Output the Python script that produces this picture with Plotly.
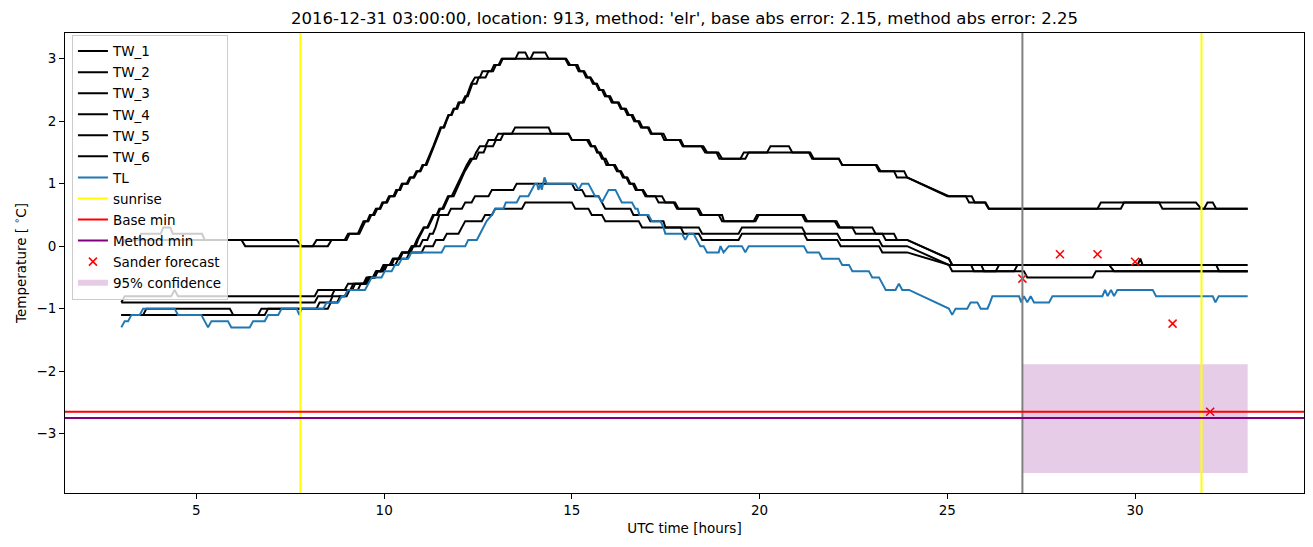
import plotly.graph_objects as go

title_text = "2016-12-31 03:00:00, location: 913, method: 'elr', base abs error: 2.15, method abs error: 2.25"

# ---- data: (hour, temperature) breakpoints ----
TW_1 = [(3.0, 0.0), (3.09, 0.1), (3.45, 0.1), (3.52, 0.2), (4.05, 0.2), (4.12, 0.3), (4.3, 0.3), (4.37, 0.2),
        (5.15, 0.2), (5.22, 0.1), (6.2, 0.1), (6.3, 0.0), (8.1, 0.0), (8.2, 0.1), (8.95, 0.1), (9.04, 0.2),
        (9.3, 0.2), (9.38, 0.3), (9.45, 0.4), (9.55, 0.4), (9.62, 0.5), (9.7, 0.5), (9.78, 0.6), (9.88, 0.6),
        (9.95, 0.7), (10.05, 0.7), (10.13, 0.8), (10.25, 0.8), (10.32, 0.9), (10.4, 0.9), (10.47, 1.0),
        (10.6, 1.0), (10.68, 1.1), (10.78, 1.1), (10.86, 1.2), (10.95, 1.2), (11.02, 1.3), (11.1, 1.3),
        (11.18, 1.4), (11.24, 1.5), (11.31, 1.6), (11.37, 1.7), (11.44, 1.8), (11.5, 1.9), (11.58, 1.9),
        (11.64, 2.0), (11.71, 2.1), (11.78, 2.1), (11.85, 2.2), (11.92, 2.2), (11.98, 2.3), (12.08, 2.3),
        (12.16, 2.4), (12.2, 2.4), (12.26, 2.5), (12.32, 2.6), (12.42, 2.7), (12.55, 2.7), (12.62, 2.8),
        (12.85, 2.8), (12.93, 2.9), (13.05, 2.9), (13.13, 3.0), (13.5, 3.0), (13.58, 3.1), (13.76, 3.1),
        (13.84, 3.0), (13.9, 3.0), (13.98, 3.1), (14.29, 3.1), (14.38, 3.0), (14.82, 3.0), (14.91, 2.9),
        (15.1, 2.9), (15.18, 2.8), (15.3, 2.8), (15.38, 2.7), (15.48, 2.7), (15.56, 2.6), (15.64, 2.6),
        (15.72, 2.5), (15.8, 2.5), (15.88, 2.4), (15.98, 2.4), (16.06, 2.3), (16.22, 2.3), (16.3, 2.2),
        (16.4, 2.2), (16.48, 2.1), (16.58, 2.1), (16.66, 2.0), (16.76, 2.0), (16.84, 1.9), (17.02, 1.9),
        (17.1, 1.8), (17.38, 1.8), (17.46, 1.7), (17.86, 1.7), (17.95, 1.6), (18.45, 1.6), (18.55, 1.5),
        (18.85, 1.5), (18.93, 1.4), (19.49, 1.4), (19.58, 1.5), (20.2, 1.5), (20.29, 1.6), (20.78, 1.6),
        (20.87, 1.5), (21.31, 1.5), (21.4, 1.4), (22.11, 1.4), (22.2, 1.3), (23.09, 1.3), (23.18, 1.2),
        (23.58, 1.2), (23.66, 1.1), (23.93, 1.1), (25.04, 0.8), (25.49, 0.8), (25.58, 0.7), (26.0, 0.7),
        (26.1, 0.6), (29.0, 0.6), (29.09, 0.7), (30.64, 0.7), (30.73, 0.6), (31.84, 0.6), (31.93, 0.7),
        (32.07, 0.7), (32.16, 0.6), (33.0, 0.6)]

TW_2 = [(3.0, 0.0), (3.09, 0.1), (7.67, 0.1), (7.8, 0.0), (8.5, 0.0), (8.6, 0.1), (9.0, 0.1), (9.08, 0.2),
        (9.34, 0.2), (9.42, 0.3), (9.5, 0.4), (9.58, 0.4), (9.66, 0.5), (9.74, 0.5), (9.82, 0.6), (9.9, 0.6),
        (9.98, 0.7), (10.08, 0.7), (10.16, 0.8), (10.28, 0.8), (10.36, 0.9), (10.43, 0.9), (10.5, 1.0),
        (10.63, 1.0), (10.71, 1.1), (10.8, 1.1), (10.89, 1.2), (10.97, 1.2), (11.05, 1.3), (11.13, 1.3),
        (11.2, 1.4), (11.26, 1.5), (11.33, 1.6), (11.39, 1.7), (11.46, 1.8), (11.52, 1.9), (11.6, 1.9),
        (11.66, 2.0), (11.73, 2.1), (11.8, 2.1), (11.87, 2.2), (11.95, 2.2), (12.01, 2.3), (12.12, 2.3),
        (12.19, 2.4), (12.23, 2.4), (12.29, 2.5), (12.35, 2.6), (12.46, 2.6), (12.52, 2.7), (12.7, 2.7),
        (12.78, 2.8), (12.9, 2.8), (12.98, 2.9), (13.08, 2.9), (13.16, 3.0), (14.85, 3.0), (14.95, 2.9),
        (15.15, 2.9), (15.22, 2.8), (15.33, 2.8), (15.42, 2.7), (15.5, 2.7), (15.6, 2.6), (15.67, 2.6),
        (15.75, 2.5), (15.84, 2.5), (15.92, 2.4), (16.02, 2.4), (16.1, 2.3), (16.25, 2.3), (16.33, 2.2),
        (16.44, 2.2), (16.52, 2.1), (16.62, 2.1), (16.7, 2.0), (16.8, 2.0), (16.88, 1.9), (17.05, 1.9),
        (17.13, 1.8), (17.44, 1.8), (17.52, 1.7), (17.9, 1.7), (17.98, 1.6), (18.5, 1.6), (18.6, 1.5),
        (18.9, 1.5), (19.0, 1.4), (19.62, 1.4), (19.71, 1.5), (21.35, 1.5), (21.44, 1.4), (22.11, 1.4),
        (22.2, 1.3), (23.12, 1.3), (23.22, 1.2), (23.85, 1.2), (23.93, 1.1), (25.0, 0.8), (25.65, 0.8),
        (25.73, 0.7), (26.02, 0.7), (26.11, 0.6), (29.62, 0.6), (29.71, 0.7), (31.62, 0.7), (31.76, 0.6),
        (33.0, 0.6)]

TW_3 = [(3.0, -0.9), (3.09, -0.8), (4.33, -0.8), (4.42, -0.7), (4.51, -0.8), (8.15, -0.8), (8.24, -0.7),
        (8.95, -0.7), (9.04, -0.6), (9.49, -0.6), (9.58, -0.5), (9.71, -0.5), (9.8, -0.4), (9.93, -0.4),
        (10.02, -0.3), (10.16, -0.3), (10.24, -0.2), (10.38, -0.2), (10.47, -0.1), (10.64, -0.1),
        (10.73, 0.0), (10.8, 0.0), (10.87, 0.1), (10.95, 0.2), (11.05, 0.3), (11.15, 0.3), (11.22, 0.4),
        (11.3, 0.5), (11.4, 0.5), (11.47, 0.6), (11.55, 0.6), (11.62, 0.7), (11.7, 0.8), (11.8, 0.8),
        (11.88, 0.9), (11.95, 1.0), (12.02, 1.1), (12.1, 1.2), (12.2, 1.3), (12.3, 1.4), (12.38, 1.4),
        (12.45, 1.5), (12.55, 1.6), (12.7, 1.6), (12.78, 1.7), (12.95, 1.7), (13.04, 1.8), (13.4, 1.8),
        (13.49, 1.9), (14.38, 1.9), (14.45, 1.8), (14.91, 1.8), (15.0, 1.7), (15.4, 1.7), (15.5, 1.6),
        (15.6, 1.6), (15.67, 1.5), (15.72, 1.5), (15.8, 1.4), (15.85, 1.4), (15.92, 1.3), (16.11, 1.3),
        (16.2, 1.2), (16.28, 1.2), (16.36, 1.1), (16.45, 1.1), (16.53, 1.0), (16.62, 1.0), (16.7, 0.9),
        (16.87, 0.9), (16.96, 0.8), (17.22, 0.8), (17.31, 0.7), (17.71, 0.7), (17.8, 0.6), (18.33, 0.6),
        (18.42, 0.5), (18.91, 0.5), (19.0, 0.4), (19.84, 0.4), (19.93, 0.5), (21.13, 0.5), (21.22, 0.4),
        (22.0, 0.4), (22.1, 0.3), (22.47, 0.3), (22.56, 0.2), (23.27, 0.2), (23.36, 0.1), (23.93, 0.1),
        (25.04, -0.2), (25.13, -0.3), (30.07, -0.3), (30.14, -0.2), (30.2, -0.3), (33.0, -0.3)]

TW_4 = [(3.0, -0.9), (8.15, -0.9), (8.24, -0.8), (8.6, -0.8), (8.68, -0.7), (9.1, -0.7), (9.18, -0.6),
        (9.55, -0.6), (9.62, -0.5), (9.75, -0.5), (9.82, -0.4), (9.98, -0.4), (10.05, -0.3), (10.2, -0.3),
        (10.27, -0.2), (10.42, -0.2), (10.5, -0.1), (10.66, -0.1), (10.75, 0.0), (10.84, 0.0), (10.9, 0.1),
        (10.98, 0.2), (11.07, 0.3), (11.17, 0.3), (11.25, 0.4), (11.33, 0.5), (11.42, 0.5), (11.5, 0.6),
        (11.58, 0.6), (11.66, 0.7), (11.73, 0.8), (11.85, 0.8), (11.92, 0.9), (12.0, 1.0), (12.07, 1.1),
        (12.15, 1.2), (12.25, 1.3), (12.35, 1.4), (12.45, 1.4), (12.52, 1.5), (12.65, 1.5), (12.72, 1.6),
        (12.9, 1.6), (12.98, 1.7), (13.1, 1.7), (13.18, 1.8), (14.91, 1.8), (15.0, 1.7), (15.45, 1.7),
        (15.53, 1.6), (15.62, 1.6), (15.7, 1.5), (15.76, 1.5), (15.84, 1.4), (15.9, 1.4), (15.98, 1.3),
        (16.15, 1.3), (16.24, 1.2), (16.31, 1.2), (16.4, 1.1), (16.48, 1.1), (16.56, 1.0), (16.66, 1.0),
        (16.74, 0.9), (16.9, 0.9), (17.0, 0.8), (17.4, 0.8), (17.49, 0.7), (17.75, 0.7), (17.84, 0.6),
        (18.38, 0.6), (18.47, 0.5), (19.0, 0.5), (19.05, 0.4), (19.89, 0.4), (19.98, 0.5), (21.18, 0.5),
        (21.27, 0.4), (22.05, 0.4), (22.14, 0.3), (23.0, 0.3), (23.09, 0.2), (23.58, 0.2), (23.66, 0.1),
        (23.93, 0.1), (25.04, -0.2), (25.13, -0.3), (25.9, -0.3), (25.98, -0.4), (26.29, -0.4),
        (26.38, -0.3), (29.31, -0.3), (29.44, -0.4), (33.0, -0.4)]

TW_5 = [(3.0, -1.1), (3.58, -1.1), (3.67, -1.0), (5.89, -1.0), (5.98, -1.1), (6.64, -1.1), (6.73, -1.0),
        (8.2, -1.0), (8.28, -0.9), (8.55, -0.9), (8.63, -0.8), (8.95, -0.8), (9.04, -0.7), (9.15, -0.7),
        (9.23, -0.6), (9.45, -0.6), (9.53, -0.5), (9.7, -0.5), (9.78, -0.4), (9.9, -0.4), (9.98, -0.3),
        (10.15, -0.3), (10.23, -0.2), (10.4, -0.2), (10.48, -0.1), (10.7, -0.1), (10.78, 0.0), (10.95, 0.0),
        (11.03, 0.1), (11.15, 0.1), (11.22, 0.2), (11.3, 0.2), (11.37, 0.3), (11.42, 0.4), (11.47, 0.5),
        (11.7, 0.5), (11.78, 0.6), (12.07, 0.6), (12.16, 0.7), (12.33, 0.7), (12.42, 0.8), (12.78, 0.8),
        (12.87, 0.9), (13.44, 0.9), (13.53, 1.0), (15.0, 1.0), (15.09, 0.9), (15.27, 0.9), (15.36, 0.8),
        (15.71, 0.8), (15.8, 0.7), (15.89, 0.6), (16.56, 0.6), (16.64, 0.5), (17.0, 0.5), (17.09, 0.4),
        (17.44, 0.4), (17.49, 0.3), (18.38, 0.3), (18.47, 0.2), (19.44, 0.2), (19.53, 0.3), (21.13, 0.3),
        (21.22, 0.2), (22.07, 0.2), (22.16, 0.1), (23.18, 0.1), (23.27, 0.0), (23.93, 0.0), (25.04, -0.3),
        (25.63, -0.3), (25.71, -0.4), (27.04, -0.4), (27.13, -0.5), (28.87, -0.5), (28.96, -0.4),
        (33.0, -0.4)]

TW_6 = [(3.0, -1.1), (6.82, -1.1), (6.91, -1.0), (8.5, -1.0), (8.58, -0.9), (8.75, -0.9), (8.83, -0.8),
        (9.0, -0.8), (9.08, -0.7), (9.3, -0.7), (9.38, -0.6), (9.5, -0.6), (9.58, -0.5), (9.75, -0.5),
        (9.83, -0.4), (10.0, -0.4), (10.08, -0.3), (10.3, -0.3), (10.38, -0.2), (10.6, -0.2), (10.68, -0.1),
        (11.0, -0.1), (11.08, 0.0), (11.3, 0.0), (11.38, 0.1), (11.58, 0.1), (11.67, 0.2), (11.98, 0.2),
        (12.07, 0.3), (12.16, 0.4), (12.6, 0.4), (12.69, 0.5), (12.87, 0.5), (12.96, 0.6), (13.67, 0.6),
        (13.76, 0.7), (15.0, 0.7), (15.09, 0.6), (15.44, 0.6), (15.53, 0.5), (15.8, 0.5), (15.89, 0.4),
        (16.78, 0.4), (16.87, 0.3), (17.9, 0.3), (17.98, 0.2), (18.38, 0.2), (18.47, 0.1), (19.44, 0.1),
        (19.53, 0.2), (21.18, 0.2), (21.27, 0.1), (22.07, 0.1), (22.16, 0.0), (23.18, 0.0), (23.27, -0.1),
        (23.93, -0.1), (25.04, -0.3), (25.13, -0.4), (26.78, -0.4), (26.87, -0.3), (30.56, -0.3),
        (30.64, -0.3), (32.16, -0.3), (32.24, -0.4), (33.0, -0.4)]

TL = [(3.0, -1.3), (3.09, -1.2), (3.18, -1.2), (3.27, -1.1), (3.49, -1.1), (3.58, -1.0), (4.42, -1.0),
      (4.51, -1.1), (5.13, -1.1), (5.22, -1.2), (5.31, -1.3), (5.4, -1.2), (5.84, -1.2), (5.93, -1.3),
      (6.42, -1.3), (6.51, -1.2), (6.82, -1.2), (6.91, -1.1), (7.18, -1.1), (7.27, -1.0), (7.67, -1.0),
      (7.74, -1.1), (7.8, -1.0), (8.38, -1.0), (8.47, -0.9), (8.78, -0.9), (8.87, -0.8), (8.95, -0.8),
      (9.04, -0.7), (9.49, -0.7), (9.58, -0.6), (9.67, -0.5), (9.93, -0.5), (10.02, -0.4), (10.2, -0.4),
      (10.29, -0.3), (10.38, -0.3), (10.47, -0.2), (10.64, -0.2), (10.73, -0.1), (11.53, -0.1),
      (11.62, 0.0), (12.16, 0.0), (12.24, 0.1), (12.47, 0.1), (12.56, 0.2), (12.64, 0.3), (12.73, 0.4),
      (12.87, 0.5), (12.96, 0.6), (13.18, 0.6), (13.24, 0.7), (13.53, 0.7), (13.62, 0.8), (13.84, 0.8),
      (13.93, 0.9), (14.02, 1.0), (14.07, 1.0), (14.11, 0.9), (14.16, 1.0), (14.2, 0.9), (14.27, 1.1),
      (14.33, 1.0), (15.09, 1.0), (15.18, 0.9), (15.27, 1.0), (15.44, 1.0), (15.53, 0.9), (15.62, 0.8),
      (15.71, 0.8), (15.8, 0.7), (15.89, 0.8), (15.98, 0.9), (16.16, 0.9), (16.25, 0.8), (16.33, 0.7),
      (16.6, 0.7), (16.69, 0.6), (16.75, 0.6), (16.8, 0.5), (17.04, 0.5), (17.13, 0.4), (17.36, 0.4),
      (17.44, 0.3), (17.49, 0.2), (17.93, 0.2), (18.02, 0.1), (18.11, 0.2), (18.24, 0.2), (18.33, 0.1),
      (18.42, 0.0), (18.51, 0.0), (18.6, -0.1), (18.91, -0.1), (18.96, 0.0), (19.04, -0.1), (19.18, 0.0),
      (19.53, 0.0), (19.62, -0.1), (19.71, 0.0), (21.18, 0.0), (21.27, -0.1), (21.58, -0.1), (21.67, -0.2),
      (22.11, -0.2), (22.2, -0.3), (22.38, -0.3), (22.47, -0.4), (22.91, -0.4), (23.0, -0.5), (23.18, -0.5),
      (23.27, -0.6), (23.36, -0.7), (23.62, -0.7), (23.71, -0.6), (23.8, -0.7), (23.98, -0.7),
      (25.04, -1.0), (25.13, -1.1), (25.22, -1.0), (25.53, -1.0), (25.62, -0.9), (25.8, -0.9),
      (25.89, -1.0), (26.07, -1.0), (26.14, -0.9), (26.2, -0.8), (26.91, -0.8), (26.97, -0.9),
      (27.04, -0.8), (27.13, -0.9), (27.22, -0.8), (27.31, -0.9), (27.71, -0.9), (27.8, -0.8),
      (29.13, -0.8), (29.2, -0.7), (29.27, -0.8), (29.36, -0.7), (29.44, -0.8), (29.53, -0.7),
      (30.47, -0.7), (30.56, -0.8), (32.07, -0.8), (32.14, -0.9), (32.23, -0.8), (33.0, -0.8)]

sunrise_hours = [7.77, 31.77]
forecast_start = 27.0
base_min = -2.65
method_min = -2.75
sander_hours = [27, 28, 29, 30, 31, 32]
sander_values = [-0.52, -0.13, -0.13, -0.25, -1.24, -2.65]
conf_hours = [27.0, 33.0]
conf_low = -3.63
conf_high = -1.89
x_ticks = [5, 10, 15, 20, 25, 30]
y_ticks = [-3, -2, -1, 0, 1, 2, 3]
x_range = [1.5, 34.5]
y_range = [-3.95, 3.41]

FONT = "DejaVu Sans"
fig = go.Figure()

tw_series = [("TW_1", TW_1), ("TW_2", TW_2), ("TW_3", TW_3), ("TW_4", TW_4), ("TW_5", TW_5), ("TW_6", TW_6)]
for name, pts in tw_series:
    fig.add_trace(go.Scatter(x=[p[0] for p in pts], y=[p[1] for p in pts], mode="lines", name=name,
                             legendgroup=name, line=dict(color="black", width=2)))

fig.add_trace(go.Scatter(x=[p[0] for p in TL], y=[p[1] for p in TL], mode="lines", name="TL",
                         legendgroup="TL", line=dict(color="#1f77b4", width=2)))

# legend-only entries for reference lines (the lines themselves are layout shapes)
fig.add_trace(go.Scatter(x=[None], y=[None], mode="lines", name="sunrise", legendgroup="sunrise",
                         line=dict(color="yellow", width=2)))
fig.add_trace(go.Scatter(x=[None], y=[None], mode="lines", name="Base min", legendgroup="base",
                         line=dict(color="red", width=2)))
fig.add_trace(go.Scatter(x=[None], y=[None], mode="lines", name="Method min", legendgroup="method",
                         line=dict(color="purple", width=2)))

fig.add_trace(go.Scatter(x=sander_hours, y=sander_values, mode="markers", name="Sander forecast",
                         legendgroup="sander",
                         marker=dict(symbol="x-thin", size=8, color="red", line=dict(color="red", width=1.5))))

fig.add_trace(go.Scatter(x=[conf_hours[0], conf_hours[1], conf_hours[1], conf_hours[0]],
                         y=[conf_low, conf_low, conf_high, conf_high], mode="none", fill="toself",
                         fillcolor="rgba(128,0,128,0.2)", name="95% confidence", legendgroup="conf"))

shapes = []
for h in sunrise_hours:
    shapes.append(dict(type="line", xref="x", yref="y domain", x0=h, x1=h, y0=0, y1=1,
                       line=dict(color="yellow", width=2)))
shapes.append(dict(type="line", xref="x", yref="y domain", x0=forecast_start, x1=forecast_start, y0=0, y1=1,
                   line=dict(color="grey", width=2)))
shapes.append(dict(type="line", xref="x domain", yref="y", x0=0, x1=1, y0=base_min, y1=base_min,
                   line=dict(color="red", width=2)))
shapes.append(dict(type="line", xref="x domain", yref="y", x0=0, x1=1, y0=method_min, y1=method_min,
                   line=dict(color="purple", width=2)))

axis_common = dict(showline=True, mirror=True, linecolor="black", linewidth=1, ticks="outside",
                   ticklen=5, tickwidth=1, tickcolor="black", showgrid=False, zeroline=False,
                   tickfont=dict(family=FONT, size=13.5, color="black"))

fig.update_layout(
    width=1313, height=547,
    template="none",
    paper_bgcolor="white", plot_bgcolor="white",
    margin=dict(l=65, r=9, t=33, b=54),
    shapes=shapes,
    title=dict(text=title_text, x=0.5, xref="paper", xanchor="center", y=1 - 18 / 547, yref="container",
               yanchor="middle", font=dict(family=FONT, size=16.5, color="black")),
    xaxis=dict(range=x_range, tickvals=x_ticks,
               title=dict(text="UTC time [hours]", standoff=6, font=dict(family=FONT, size=13.5, color="black")),
               **axis_common),
    yaxis=dict(range=y_range, tickvals=y_ticks,
               title=dict(text="Temperature [ <sup>∘</sup>C]", standoff=6,
                          font=dict(family=FONT, size=13.5, color="black")),
               **axis_common),
    legend=dict(x=0.0056, y=0.996, xanchor="left", yanchor="top", bgcolor="rgba(255,255,255,0.8)",
                bordercolor="#cccccc", borderwidth=1, tracegroupgap=0.5, itemwidth=30,
                font=dict(family=FONT, size=13.5, color="black")),
    showlegend=True,
)

fig.write_html("out.html")
